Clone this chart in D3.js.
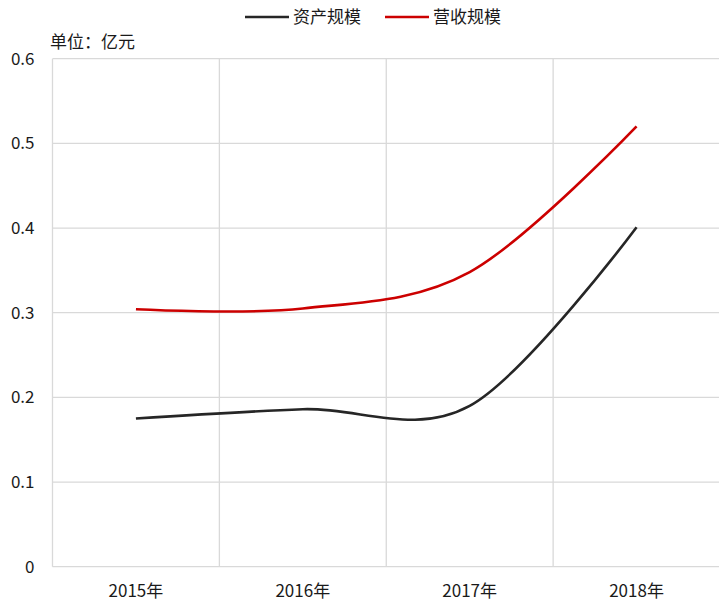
<!DOCTYPE html>
<html>
<head>
<meta charset="utf-8">
<script src="https://cdn.jsdelivr.net/npm/d3@7"></script>
<style>
  body { margin: 0; background: #fff; }
  text { font-family: "Noto Sans CJK SC", "Noto Sans", sans-serif; fill: #1a1a1a; }
</style>
</head>
<body>
<div id="chart"></div>
<script>
// data
var years = ["2015年", "2016年", "2017年", "2018年"];
var assetScale = [0.175, 0.186, 0.190, 0.401];   // 资产规模
var revenueScale = [0.304, 0.305, 0.348, 0.520]; // 营收规模
var yTicks = [0, 0.1, 0.2, 0.3, 0.4, 0.5, 0.6];
var seriesNames = ["资产规模", "营收规模"];
var seriesColors = ["#262626", "#cc0000"];

var W = 719, H = 605;
var margin = { top: 58.7, right: -1, bottom: 38.3, left: 52.5 };
var width = W - margin.left - margin.right;
var height = H - margin.top - margin.bottom;

var svg = d3.select("#chart").append("svg")
    .attr("width", W)
    .attr("height", H);

var g = svg.append("g")
    .attr("transform", "translate(" + margin.left + "," + margin.top + ")");

var x = d3.scaleBand()
    .domain(years)
    .range([0, width]);

var y = d3.scaleLinear()
    .domain([0, 0.6])
    .range([height, 0]);

// horizontal grid
g.append("g")
    .selectAll("line")
    .data(yTicks)
    .enter()
    .append("line")
    .attr("x1", 0)
    .attr("x2", width)
    .attr("y1", d => y(d))
    .attr("y2", d => y(d))
    .attr("stroke", "#d9d9d9")
    .attr("stroke-width", 1.3);

// vertical grid at band edges
var edges = years.map(d => x(d)).concat([width]);
g.append("g")
    .selectAll("line")
    .data(edges)
    .enter()
    .append("line")
    .attr("x1", d => d)
    .attr("x2", d => d)
    .attr("y1", 0)
    .attr("y2", height)
    .attr("stroke", "#d9d9d9")
    .attr("stroke-width", 1.3);

// y axis labels
var yAxis = g.append("g")
    .call(d3.axisLeft(y).tickValues(yTicks).tickSize(0).tickPadding(18)
        .tickFormat(d => d === 0 ? "0" : d3.format(".1f")(d)));
yAxis.select(".domain").remove();
yAxis.selectAll("text")
    .style("font-size", "17px")
    .attr("fill", "#1a1a1a");

// x axis labels
var xAxis = g.append("g")
    .attr("transform", `translate(0,${height})`)
    .call(d3.axisBottom(x).tickSize(0).tickPadding(18));
xAxis.select(".domain").remove();
xAxis.selectAll("text")
    .style("font-size", "17px")
    .attr("fill", "#1a1a1a");

// unit label
svg.append("text")
    .attr("x", 50)
    .attr("y", 48)
    .style("font-size", "17px")
    .text("单位：亿元");

var line = d3.line()
    .x((d, i) => x(years[i]) + x.bandwidth() / 2)
    .y(d => y(d))
    .curve(d3.curveCardinal.tension(0));

[assetScale, revenueScale].forEach(function (vals, k) {
    g.append("path")
        .datum(vals)
        .attr("fill", "none")
        .attr("stroke", seriesColors[k])
        .attr("stroke-width", 2.6)
        .attr("d", line);
});

// legend
var legendX = [245, 385];
seriesNames.forEach(function (name, k) {
    var lg = svg.append("g").attr("transform", `translate(${legendX[k]},17)`);
    lg.append("line")
        .attr("x1", 0).attr("x2", 44)
        .attr("y1", 0).attr("y2", 0)
        .attr("stroke", seriesColors[k])
        .attr("stroke-width", 2.6);
    lg.append("text")
        .attr("x", 48)
        .attr("y", 6)
        .style("font-size", "17px")
        .text(name);
});
</script>
</body>
</html>
